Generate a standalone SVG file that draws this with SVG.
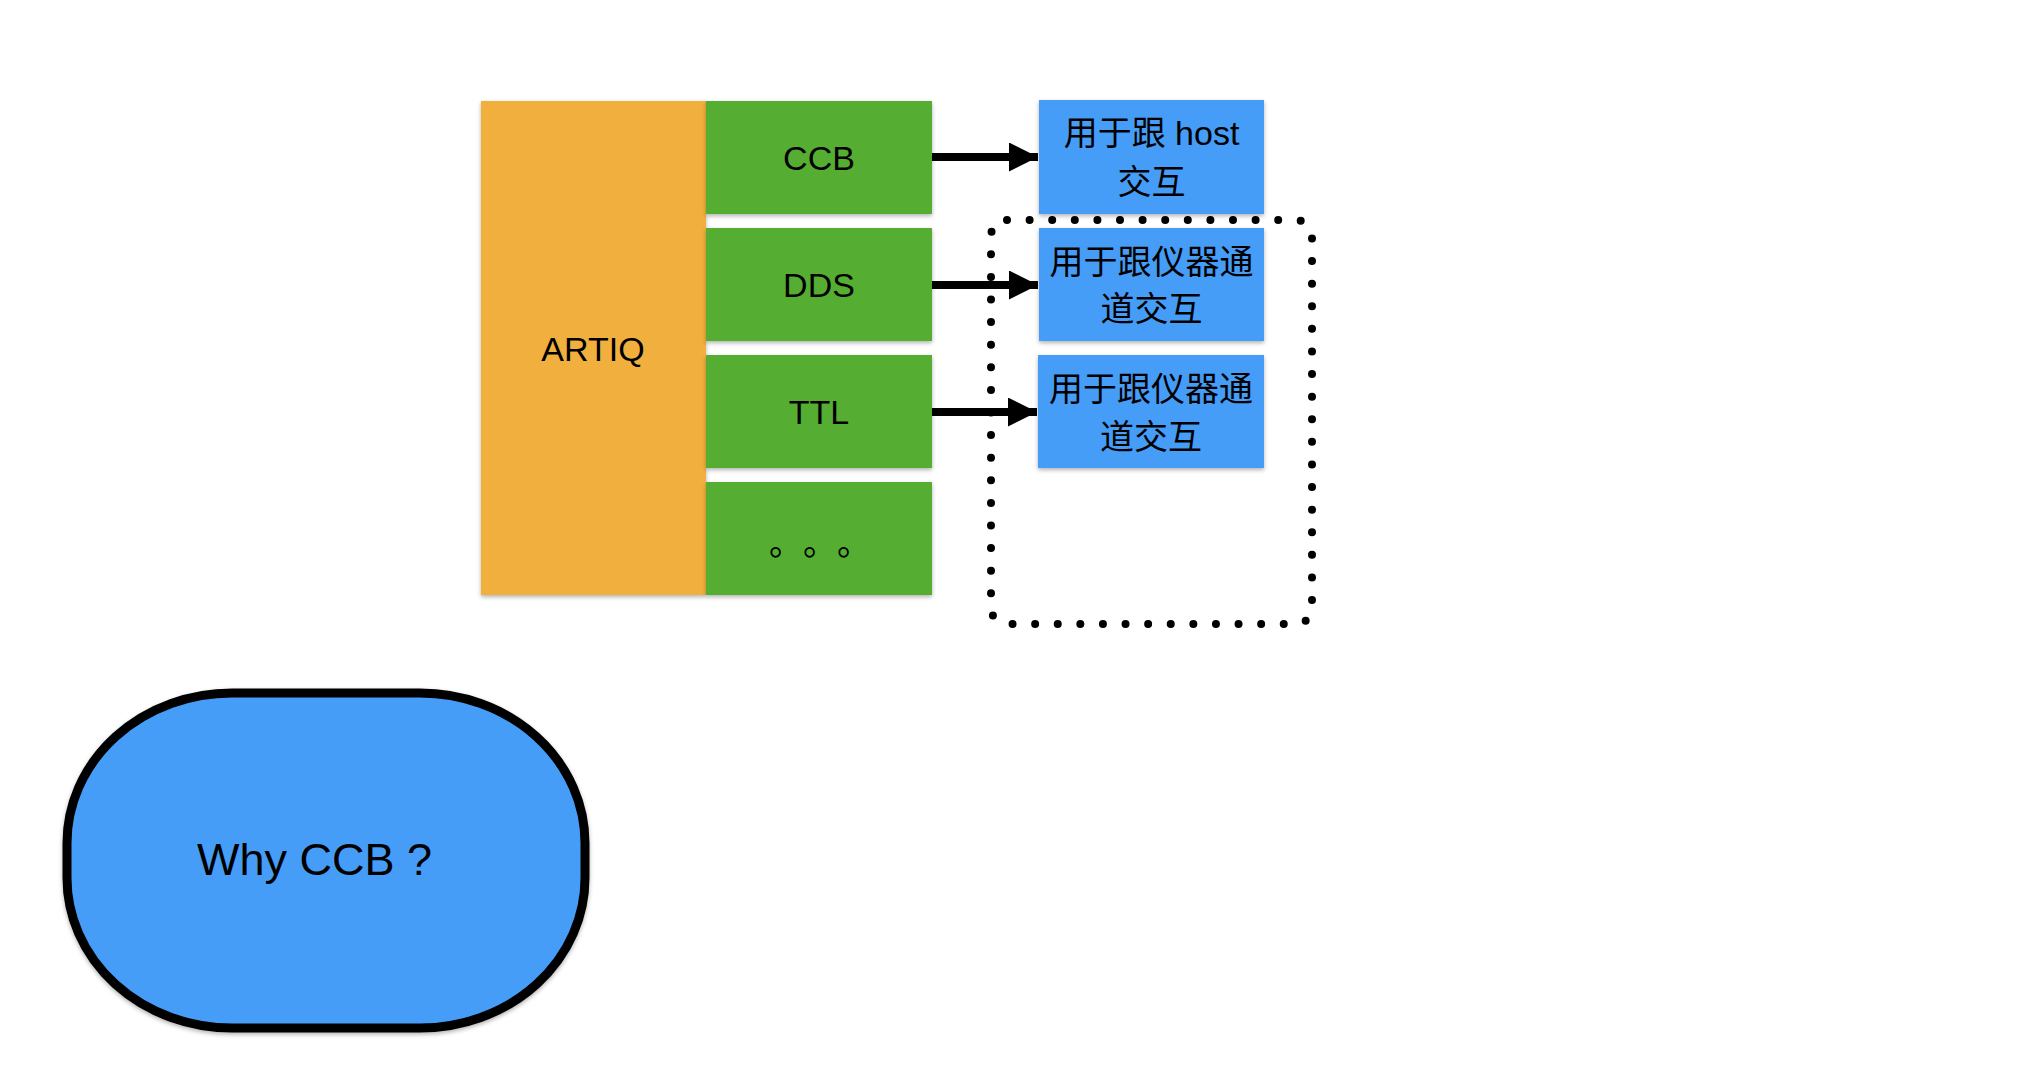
<svg xmlns="http://www.w3.org/2000/svg" width="2018" height="1080" viewBox="0 0 2018 1080">
<style>
.t{font-family:"Liberation Sans","Noto Sans CJK SC",Arial,sans-serif;font-size:34px;fill:#000;text-anchor:middle}
.c{font-family:"Liberation Sans","Noto Sans CJK SC",sans-serif;font-size:34px;fill:#000;text-anchor:middle}
.j{font-family:"Noto Sans CJK SC",sans-serif;font-size:34px;fill:#000;font-feature-settings:"chws" 0,"halt" 0,"palt" 0}
.g{fill:#54AE33}
.b{fill:#459DF8}
.ln{stroke:#000;stroke-width:8;fill:none}
</style>
<defs>
<filter id="sh" x="-10%" y="-10%" width="120%" height="120%">
<feDropShadow dx="0" dy="2" stdDeviation="2" flood-color="#000" flood-opacity="0.3"/>
</filter>
<marker id="ah" markerUnits="userSpaceOnUse" markerWidth="30" markerHeight="30" refX="29" refY="14.5" orient="auto">
<path d="M0,0 L29,14.5 L0,29 Z" fill="#000"/>
</marker>
</defs>
<rect width="2018" height="1080" fill="#fff"/>
<g id="artiq">
<rect x="481" y="101" width="225" height="494" fill="#F1B03D" filter="url(#sh)"/>
<text class="t" x="593" y="361">ARTIQ</text>
</g>
<g id="ccb">
<rect class="g" x="706" y="101" width="226" height="113" filter="url(#sh)"/>
<text class="t" x="819" y="170">CCB</text>
</g>
<g id="dds">
<rect class="g" x="706" y="228" width="226" height="113" filter="url(#sh)"/>
<text class="t" x="819" y="297">DDS</text>
</g>
<g id="ttl">
<rect class="g" x="706" y="355" width="226" height="113" filter="url(#sh)"/>
<text class="t" x="819" y="424">TTL</text>
</g>
<g id="more">
<rect class="g" x="706" y="482" width="226" height="113" filter="url(#sh)"/>
<text class="j" x="769 803 837" y="555">。。。</text>
</g>
<g id="host">
<rect class="b" x="1039" y="100" width="225" height="114" filter="url(#sh)"/>
<text class="c" x="1151.5" y="145">用于跟 host</text>
<text class="c" x="1151.5" y="194">交互</text>
</g>
<g id="dev1">
<rect class="b" x="1039" y="228" width="225" height="113" filter="url(#sh)"/>
<text class="c" x="1151.5" y="274">用于跟仪器通</text>
<text class="c" x="1151.5" y="321">道交互</text>
</g>
<g id="dev2">
<rect class="b" x="1038" y="355" width="226" height="113" filter="url(#sh)"/>
<text class="c" x="1151" y="401">用于跟仪器通</text>
<text class="c" x="1151" y="449">道交互</text>
</g>
<g id="group-box">
<rect x="991" y="220" width="321" height="404" rx="16" ry="16" fill="none" stroke="#000" stroke-width="8" stroke-linecap="round" stroke-dasharray="0 22.6"/>
</g>
<g id="connectors">
<line class="ln" x1="932" y1="157" x2="1038" y2="157" marker-end="url(#ah)"/>
<line class="ln" x1="932" y1="285" x2="1038" y2="285" marker-end="url(#ah)"/>
<line class="ln" x1="932" y1="412" x2="1037" y2="412" marker-end="url(#ah)"/>
</g>
<g id="why">
<rect x="67" y="693" width="518" height="335" rx="165" ry="150" fill="#459DF8" stroke="#000" stroke-width="9" filter="url(#sh)"/>
<text x="314.5" y="875" font-family="Liberation Sans, Arial, sans-serif" font-size="45" text-anchor="middle" fill="#000">Why CCB ?</text>
</g>
</svg>
